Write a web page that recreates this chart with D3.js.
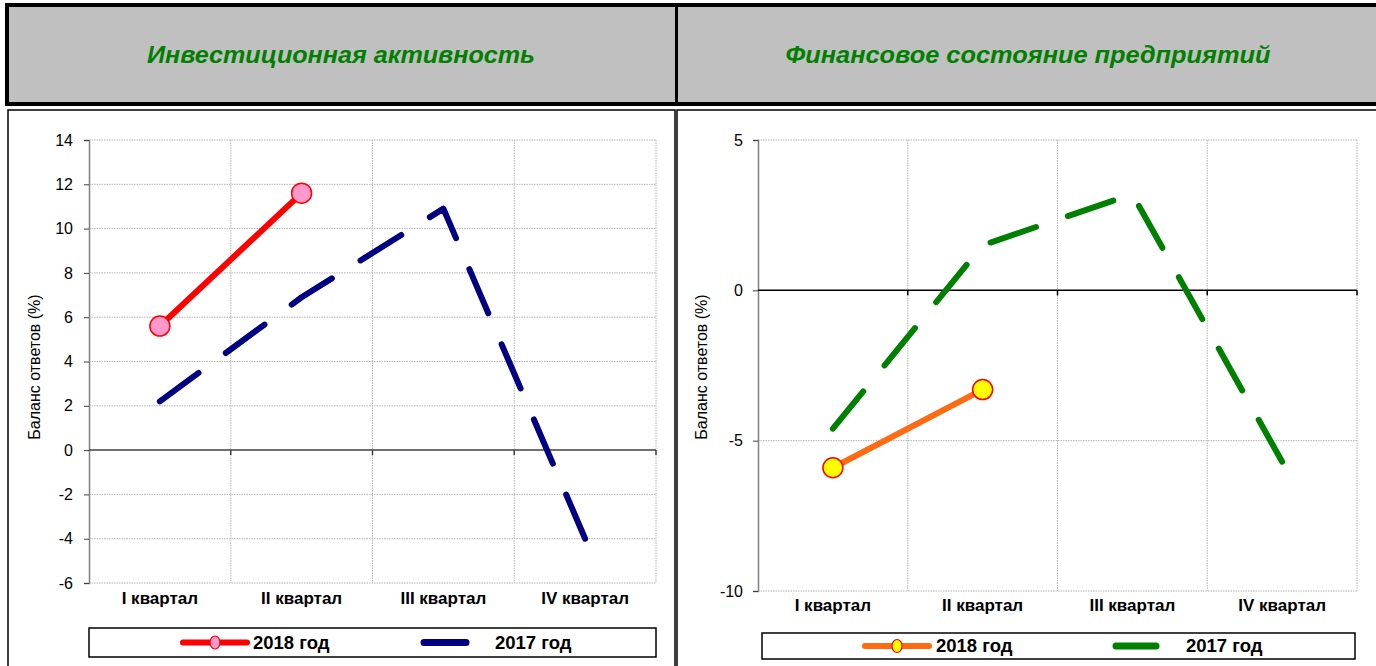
<!DOCTYPE html>
<html>
<head>
<meta charset="utf-8">
<script src="https://cdnjs.cloudflare.com/ajax/libs/d3/7.8.5/d3.min.js"></script>
<style>
  body { margin: 0; background: #fff; }
  svg { display: block; font-family: Arial, "Liberation Sans", sans-serif; }
</style>
</head>
<body>
<div id="chart"></div>
<script>
// data
var quarters = ["I квартал", "II квартал", "III квартал", "IV квартал"]
var investTicks = [-6, -4, -2, 0, 2, 4, 6, 8, 10, 12, 14]
var invest2018 = [5.6, 11.6]
var invest2017 = [2.2, 6.9, 10.9, -4.0]
var financeTicks = [-10, -5, 0, 5]
var finance2018 = [-5.9, -3.3]
var finance2017 = [-4.6, 1.5, 3.2, -5.7]
var seriesNames = ["2018 год", "2017 год"]

var svg = d3.select("#chart").append("svg")
  .attr("width", 1376)
  .attr("height", 666)

// header band with the two titles
svg.append("rect")
  .attr("x", 7).attr("y", 5).attr("width", 1375).attr("height", 99)
  .attr("fill", "#c0c0c0").attr("stroke", "#000").attr("stroke-width", 4)
svg.append("line")
  .attr("x1", 676.5).attr("x2", 676.5).attr("y1", 5).attr("y2", 104)
  .attr("stroke", "#000").attr("stroke-width", 3)

// frames below the header
svg.append("rect")
  .attr("x", 8).attr("y", 110).attr("width", 667).attr("height", 570)
  .attr("fill", "none").attr("stroke", "#000").attr("stroke-width", 1.5)
svg.append("rect")
  .attr("x", 677).attr("y", 110).attr("width", 710).attr("height", 570)
  .attr("fill", "none").attr("stroke", "#000").attr("stroke-width", 1.5)

function header(text, cx, len) {
  svg.append("text")
    .attr("x", cx).attr("y", 63)
    .attr("text-anchor", "middle")
    .attr("textLength", len)
    .attr("lengthAdjust", "spacingAndGlyphs")
    .style("font-size", "24px")
    .style("font-weight", "bold")
    .style("font-style", "italic")
    .attr("fill", "#008000")
    .text(text)
}
header("Инвестиционная активность", 341, 388)
header("Финансовое состояние предприятий", 1028, 485)

// long-dash pattern stretched so that a dash ends on the last point
function fitDash(path, dash, gap) {
  var len = path.node().getTotalLength()
  var n = Math.max(2, Math.round((len + gap) / (dash + gap)))
  var g = (len - n * dash) / (n - 1)
  path.attr("stroke-dasharray", dash + "," + g)
}

function drawChart(opt) {
  var g = svg.append("g")

  var x = d3.scaleBand().domain(quarters).range([opt.left, opt.right])
  var y = d3.scaleLinear().domain(opt.domain).range([opt.bottom, opt.top])

  // dotted grid
  g.selectAll(".hgrid").data(opt.ticks.filter(function (d) { return d != 0 }))
    .enter().append("line")
    .attr("x1", opt.left).attr("x2", opt.right)
    .attr("y1", function (d) { return y(d) }).attr("y2", function (d) { return y(d) })
    .attr("stroke", "#b4b4b4").attr("stroke-dasharray", "1.5,1")
  g.selectAll(".vgrid").data(quarters)
    .enter().append("line")
    .attr("x1", function (d) { return x(d) + x.bandwidth() }).attr("x2", function (d) { return x(d) + x.bandwidth() })
    .attr("y1", opt.top).attr("y2", opt.bottom)
    .attr("stroke", "#b4b4b4").attr("stroke-dasharray", "1.5,1")

  // y axis
  var yAxis = g.append("g")
    .attr("transform", "translate(" + opt.left + ",0)")
    .call(d3.axisLeft(y).tickValues(opt.ticks).tickSize(5).tickPadding(opt.pad)
      .tickFormat(function (d) { return String(d) }))
  yAxis.select(".domain").attr("stroke", "#808080").attr("stroke-width", 1.5)
  yAxis.selectAll(".tick line").attr("stroke", "#404040")
  yAxis.selectAll("text").style("font-size", "16px").attr("fill", "#000")

  // zero line with ticks at category boundaries
  g.append("line")
    .attr("x1", opt.left).attr("x2", opt.right)
    .attr("y1", y(0)).attr("y2", y(0))
    .attr("stroke", opt.zeroColor).attr("stroke-width", 1.5)
  g.selectAll(".ztick").data(quarters)
    .enter().append("line")
    .attr("x1", function (d) { return x(d) + x.bandwidth() }).attr("x2", function (d) { return x(d) + x.bandwidth() })
    .attr("y1", y(0)).attr("y2", y(0) + 5)
    .attr("stroke", opt.zeroColor).attr("stroke-width", 1.5)

  // category labels
  g.selectAll(".cat").data(quarters)
    .enter().append("text")
    .attr("x", function (d) { return x(d) + x.bandwidth() / 2 })
    .attr("y", opt.catY)
    .attr("text-anchor", "middle")
    .style("font-family", "'Liberation Sans Narrow', 'Arial Narrow', Arial, sans-serif")
    .style("font-size", "17px")
    .style("font-weight", "bold")
    .text(function (d) { return d })

  // axis title
  g.append("text")
    .attr("transform", "translate(" + opt.titleX + ",367) rotate(-90)")
    .attr("text-anchor", "middle")
    .style("font-size", "16px")
    .text("Баланс ответов (%)")

  var line = d3.line()
    .x(function (d, i) { return x(quarters[i]) + x.bandwidth() / 2 })
    .y(function (d) { return y(d) })

  var prevPath = g.append("path").datum(opt.prev)
    .attr("d", line)
    .attr("fill", "none")
    .attr("stroke", opt.prevColor).attr("stroke-width", 6)
    .attr("stroke-linecap", "round").attr("stroke-linejoin", "round")
  fitDash(prevPath, 48, 30)

  g.append("path").datum(opt.cur)
    .attr("d", line)
    .attr("fill", "none")
    .attr("stroke", opt.curColor).attr("stroke-width", 6)

  g.selectAll(".dot").data(opt.cur)
    .enter().append("ellipse")
    .attr("cx", function (d, i) { return x(quarters[i]) + x.bandwidth() / 2 })
    .attr("cy", function (d) { return y(d) })
    .attr("rx", 10).attr("ry", 10)
    .attr("fill", opt.markerFill).attr("stroke", "#ff0000").attr("stroke-width", 1.5)

  // legend
  var lg = opt.legend
  g.append("rect")
    .attr("x", lg.x).attr("y", lg.y).attr("width", lg.w).attr("height", lg.h)
    .attr("fill", "#fff").attr("stroke", "#000").attr("stroke-width", 1.5)
  var my = lg.y + lg.h / 2
  g.append("line")
    .attr("x1", lg.s1[0]).attr("x2", lg.s1[1]).attr("y1", my).attr("y2", my)
    .attr("stroke", opt.curColor).attr("stroke-width", 6).attr("stroke-linecap", "round")
  g.append("ellipse")
    .attr("cx", (lg.s1[0] + lg.s1[1]) / 2).attr("cy", my).attr("rx", 5).attr("ry", 6.5)
    .attr("fill", opt.markerFill).attr("stroke", "#ff0000").attr("stroke-width", 1.2)
  g.append("line")
    .attr("x1", lg.s2[0]).attr("x2", lg.s2[1]).attr("y1", my).attr("y2", my)
    .attr("stroke", opt.prevColor).attr("stroke-width", 7).attr("stroke-linecap", "round")
  g.selectAll(".ltext").data(seriesNames)
    .enter().append("text")
    .attr("x", function (d, i) { return i == 0 ? lg.t1 : lg.t2 })
    .attr("y", my + 6)
    .style("font-family", "'Liberation Sans Narrow', 'Arial Narrow', Arial, sans-serif")
    .style("font-size", "18.5px")
    .style("font-weight", "bold")
    .text(function (d) { return d })
}

drawChart({
  left: 89, right: 656, top: 140, bottom: 583,
  domain: [-6, 14], ticks: investTicks, pad: 11,
  cur: invest2018, prev: invest2017,
  curColor: "#ff0000", prevColor: "#000080", markerFill: "#ff99cc",
  zeroColor: "#404040", catY: 604, titleX: 40,
  legend: { x: 89, y: 628, w: 567, h: 29, s1: [183, 247], s2: [424, 466], t1: 253, t2: 495 }
})

drawChart({
  left: 758, right: 1357, top: 140, bottom: 591,
  domain: [-10, 5], ticks: financeTicks, pad: 10,
  cur: finance2018, prev: finance2017,
  curColor: "#ff6a13", prevColor: "#008000", markerFill: "#ffff00",
  zeroColor: "#000", catY: 611, titleX: 707,
  legend: { x: 762, y: 633, w: 593, h: 26, s1: [865, 929], s2: [1116, 1156], t1: 936, t2: 1186 }
})
</script>
</body>
</html>
